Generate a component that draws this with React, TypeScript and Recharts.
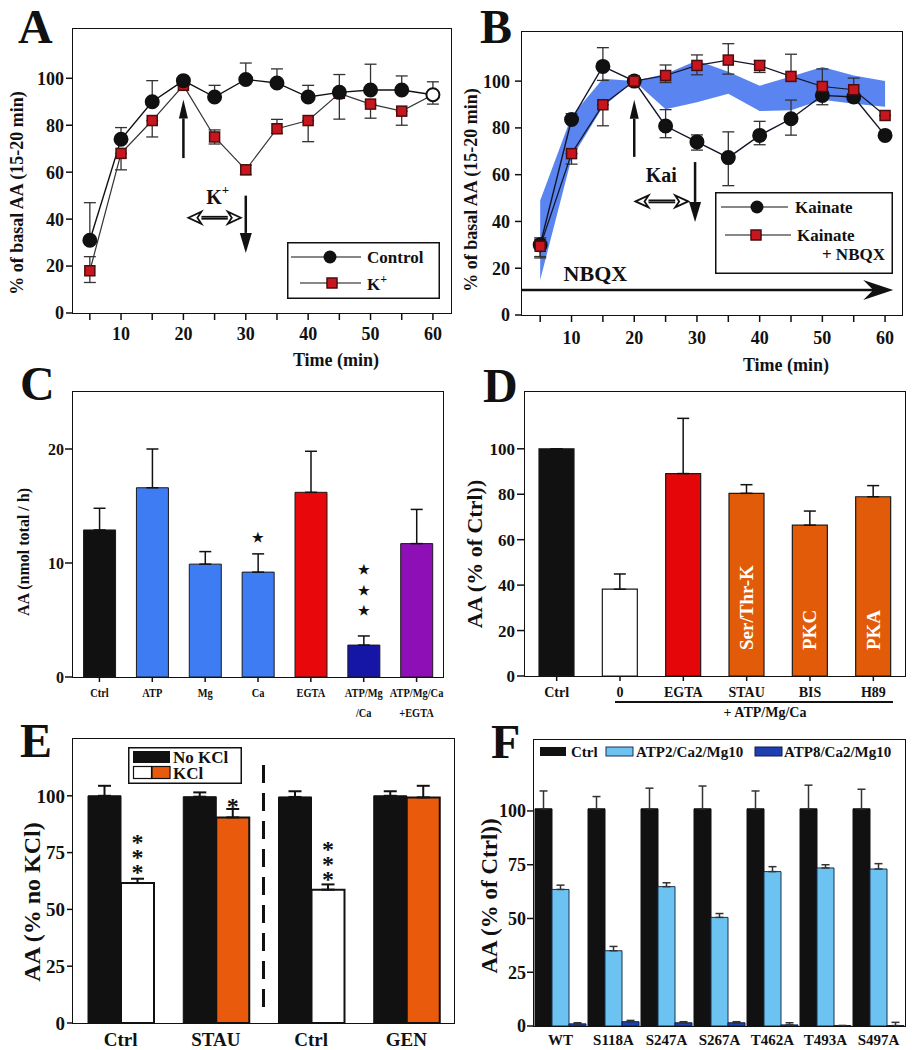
import React from "react";
import {
  Area,
  Bar,
  BarChart,
  Cell,
  ComposedChart,
  ErrorBar,
  LabelList,
  Line,
  ReferenceDot,
  ReferenceLine,
  XAxis,
  YAxis,
} from "recharts";

const FONT = '"Liberation Serif", "Times New Roman", serif';
const INK = "#111";

// A / B: time courses (% of basal AA, 15-20 min)
const times = [5, 10, 15, 20, 25, 30, 35, 40, 45, 50, 55, 60];
const controlA = [31, 74, 90, 99, 92, 99.5, 98, 92, 94, 95, 95, 93];
const controlAErr = [[0, 16], [0, 5], [0, 9], [0, 0], [0, 5], [0, 7], [0, 6], [0, 5], [0, 0], [0, 11], [0, 6], [4, 5.5]];
const kA = [18, 68, 82, 97, 75, 61, 78.5, 82, 93.6, 89, 86, 93];
const kAErr = [[5, 6], [7, 0], [7, 0], [0, 0], [3, 3], [2, 2], [2, 4], [9, 0], [11, 8], [6, 0], [6, 0], [0, 0]];

const kaiB = [30, 83.6, 106.3, 100, 80.8, 74, 67.3, 76.8, 83.9, 93.9, 93.2, 76.8];
const kaiBErr = [[5, 3], [0, 2.5], [6, 8], [0, 0], [5, 7], [3.5, 3], [12, 11], [4, 6], [7, 8], [4, 0], [2, 0], [1, 0]];
const nbqxB = [29.4, 69, 89.9, 100, 102.4, 106.7, 109, 106.7, 102, 97.7, 96.3, 85.3];
const nbqxBErr = [[5, 3], [4.5, 0], [9, 0], [0, 0], [3, 4.5], [4, 4.5], [6, 7], [3, 2], [0, 9.5], [0, 7.5], [4.5, 5], [0, 0]];
const bandLow = [15, 67, 89, 100, 88, 91, 94.6, 87.2, 87.5, 92, 90.3, 89];
const bandHigh = [49, 85, 101, 100, 103, 108.8, 104, 98, 102, 106, 102.4, 100];

// C: AA (nmol total / h)
const cLabels = ["Ctrl", "ATP", "Mg", "Ca", "EGTA", "ATP/Mg\n/Ca", "ATP/Mg/Ca\n+EGTA"];
const cValues = [12.9, 16.6, 9.9, 9.2, 16.2, 2.8, 11.7];
const cErr = [1.9, 3.4, 1.1, 1.6, 3.6, 0.8, 3];
const cColors = ["#111", "#3d7cf2", "#3d7cf2", "#3d7cf2", "#e8070b", "#1515a6", "#8d0fb5"];
const cStars = ["", "", "", "*", "", "***", ""];

// D: AA (% of Ctrl)
const dLabels = ["Ctrl", "0", "EGTA", "STAU", "BIS", "H89"];
const dValues = [100, 38.2, 89.1, 80.4, 66.4, 78.9];
const dErr = [0, 6.7, 24.3, 3.8, 6.2, 4.9];
const dColors = ["#111", "#fff", "#e5060a", "#e25b08", "#e25b08", "#e25b08"];
const dInner = ["", "", "", "Ser/Thr-K", "PKC", "PKA"];

// E: AA (% no KCl)
const eLabels = ["Ctrl", "STAU", "Ctrl", "GEN"];
const eNoKcl = [100, 99.6, 99.5, 100];
const eNoKclErr = [4.4, 1.9, 2.5, 2];
const eKcl = [61.6, 90.5, 58.7, 99.3];
const eKclErr = [1.9, 3.7, 2.3, 5.1];
const eKclColors = ["#fff", "#ea5a0c", "#fff", "#ea5a0c"];
const eStars = ["***", "*", "***", ""];

// F: AA (% of Ctrl) for phospho-site mutants
const fLabels = ["WT", "S118A", "S247A", "S267A", "T462A", "T493A", "S497A"];
const fCtrl = [101, 101, 101, 101, 101, 101, 101];
const fCtrlErr = [8.3, 5.7, 9.6, 10.6, 8.3, 11, 9.1];
const fAtp2 = [63.5, 35, 64.8, 50.5, 71.8, 73.5, 73];
const fAtp2Err = [2, 2, 1.8, 1.8, 2.3, 1.5, 2.5];
const fAtp8 = [1, 2, 1.5, 1.5, 0.5, 0.2, 0.2];
const fAtp8Err = [0.5, 0.6, 0.5, 0.5, 1, 0, 1.5];

const dataA = times.map((t, i) => ({
  t,
  control: controlA[i],
  controlErr: controlAErr[i],
  k: kA[i],
  kErr: kAErr[i],
}));
const dataB = times.map((t, i) => ({
  t,
  kai: kaiB[i],
  kaiErr: kaiBErr[i],
  nbqx: nbqxB[i],
  nbqxErr: nbqxBErr[i],
  band: [bandLow[i], bandHigh[i]],
}));
const dataC = cLabels.map((name, i) => ({ name, value: cValues[i], err: [0, cErr[i]], stars: cStars[i] }));
const dataD = dLabels.map((name, i) => ({ name, value: dValues[i], err: [0, dErr[i]], inner: dInner[i] }));
const dataE = eLabels.map((name, i) => ({
  name,
  pos: i + 0.5,
  noKcl: eNoKcl[i],
  noKclErr: [0, eNoKclErr[i]],
  kcl: eKcl[i],
  kclErr: [0, eKclErr[i]],
  stars: eStars[i],
}));
const dataF = fLabels.map((name, i) => ({
  name,
  ctrl: fCtrl[i],
  ctrlErr: [0, fCtrlErr[i]],
  atp2: fAtp2[i],
  atp2Err: [0, fAtp2Err[i]],
  atp8: fAtp8[i],
  atp8Err: [0, fAtp8Err[i]],
}));

const tick = (size: number) => ({ fill: INK, fontSize: size, fontWeight: 700, fontFamily: FONT });
const tickLine = { stroke: INK, strokeWidth: 1.5 };

function AxisTitle({ px, py, size, txt, rotate }: any) {
  return (
    <text
      x={px}
      y={py}
      textAnchor="middle"
      dominantBaseline="central"
      fontSize={size}
      fontWeight={700}
      fill={INK}
      fontFamily={FONT}
      transform={rotate ? `rotate(-90 ${px} ${py})` : undefined}
    >
      {txt}
    </text>
  );
}

// category label split on "\n", squeezed horizontally like the original figure
function MultiTick(props: any) {
  const { x, y, payload, size = 12, gap = 16, squeeze = 1 } = props;
  const lines = String(payload.value).split("\n");
  return (
    <g>
      {lines.map((line: string, i: number) => (
        <text
          key={i}
          transform={`translate(${x} ${y + i * gap}) scale(${squeeze} 1)`}
          dy="0.71em"
          textAnchor="middle"
          fontSize={size}
          fontWeight={700}
          fill={INK}
          fontFamily={FONT}
        >
          {line}
        </text>
      ))}
    </g>
  );
}

function Arrow(props: any) {
  const { x1, y1, x2, y2, head = 16, half = 5, sw = 2.5, notch = 0 } = props;
  const len = Math.hypot(x2 - x1, y2 - y1) || 1;
  const ux = (x2 - x1) / len;
  const uy = (y2 - y1) / len;
  const bx = x2 - ux * head;
  const by = y2 - uy * head;
  const nx = -uy * half;
  const ny = ux * half;
  const mx = bx + ux * notch;
  const my = by + uy * notch;
  return (
    <g>
      <line x1={x1} y1={y1} x2={mx} y2={my} stroke={INK} strokeWidth={sw} />
      <polygon points={`${x2},${y2} ${bx + nx},${by + ny} ${mx},${my} ${bx - nx},${by - ny}`} fill={INK} />
    </g>
  );
}

function DoubleArrow(props: any) {
  const { x1, y1, x2, y2 } = props;
  const head = 13;
  const half = 6;
  return (
    <g stroke={INK} strokeWidth={1.8} fill="#fff">
      <line x1={x1 + head} y1={y1} x2={x2 - head} y2={y2} />
      <line x1={x1 + head} y1={y1 + 2} x2={x2 - head} y2={y2 + 2} />
      <polygon points={`${x1},${y1 + 1} ${x1 + head},${y1 - half + 1} ${x1 + head - 4},${y1 + 1} ${x1 + head},${y1 + half + 1}`} />
      <polygon points={`${x2},${y2 + 1} ${x2 - head},${y2 - half + 1} ${x2 - head + 4},${y2 + 1} ${x2 - head},${y2 + half + 1}`} />
    </g>
  );
}

const blackDot = (last: boolean) => (p: any) => (
  <circle
    key={`c-${p.index}`}
    cx={p.cx}
    cy={p.cy}
    r={6.5}
    fill={last && p.index === times.length - 1 ? "#fff" : INK}
    stroke={INK}
    strokeWidth={2}
  />
);

const redSquare = (skipLast: boolean) => (p: any) =>
  skipLast && p.index === times.length - 1 ? (
    <g key={`s-${p.index}`} />
  ) : (
    <rect key={`s-${p.index}`} x={p.cx - 5} y={p.cy - 5} width={10} height={10} fill="#c8161e" stroke="#4a0e10" strokeWidth={1.5} />
  );

// significance marks stacked upwards above a bar, one text element per stack
function StarStack(props: any) {
  const { x, y, width, value, gap, step, size, glyph } = props;
  if (!value) return null;
  const chars = String(value).split("");
  const cx = x + width / 2;
  return (
    <text x={cx} y={y - gap} textAnchor="middle" fontSize={size} fontWeight={700} fill={INK} fontFamily={FONT}>
      {chars.map((_c: string, i: number) => (
        <tspan key={i} x={cx} dy={i === 0 ? 0 : -step}>
          {glyph}
        </tspan>
      ))}
    </text>
  );
}

function Frame({ left, top, width, height }: any) {
  return (
    <div
      style={{
        position: "absolute",
        left: left - 1,
        top: top - 1,
        width: width + 2,
        height: height + 2,
        border: `1.5px solid ${INK}`,
        boxSizing: "border-box",
        pointerEvents: "none",
      }}
    />
  );
}

function PanelLetter({ left, top, children }: any) {
  return (
    <div style={{ position: "absolute", left, top, fontSize: 48, lineHeight: "48px", fontWeight: 700, color: INK }}>{children}</div>
  );
}

function LegendA() {
  return (
    <svg style={{ position: "absolute", left: 287, top: 242 }} width={153} height={57}>
      <rect x={0.75} y={0.75} width={151.5} height={55.5} fill="#fff" stroke={INK} strokeWidth={1.5} />
      <line x1={4} y1={15} x2={74} y2={15} stroke={INK} strokeWidth={1.2} />
      <circle cx={43} cy={15} r={6.5} fill={INK} />
      <text x={80} y={21} fontSize={17} fontWeight={700} fill={INK}>Control</text>
      <line x1={13} y1={41} x2={74} y2={41} stroke={INK} strokeWidth={1.2} />
      <rect x={40} y={36} width={10} height={10} fill="#c8161e" stroke="#4a0e10" strokeWidth={1.5} />
      <text x={80} y={48} fontSize={17} fontWeight={700} fill={INK}>
        K<tspan dy={-7} fontSize={12}>+</tspan>
      </text>
    </svg>
  );
}

function LegendB() {
  return (
    <svg style={{ position: "absolute", left: 715, top: 192 }} width={178} height={82}>
      <rect x={0.75} y={0.75} width={176.5} height={80.5} fill="#fff" stroke={INK} strokeWidth={1.5} />
      <line x1={6} y1={15} x2={73} y2={15} stroke={INK} strokeWidth={1.2} />
      <circle cx={42} cy={15} r={6.5} fill={INK} />
      <text x={80} y={21} fontSize={17} fontWeight={700} fill={INK}>Kainate</text>
      <line x1={10} y1={43} x2={76} y2={43} stroke={INK} strokeWidth={1.2} />
      <rect x={36} y={38} width={10} height={10} fill="#c8161e" stroke="#4a0e10" strokeWidth={1.5} />
      <text x={82} y={49} fontSize={17} fontWeight={700} fill={INK}>Kainate</text>
      <text x={170} y={68} textAnchor="end" fontSize={17} fontWeight={700} fill={INK}>+ NBQX</text>
    </svg>
  );
}

function LegendE() {
  return (
    <svg style={{ position: "absolute", left: 128, top: 747 }} width={114} height={37}>
      <rect x={0.75} y={0.75} width={112.5} height={35.5} fill="#fff" stroke={INK} strokeWidth={1.5} />
      <rect x={5} y={4} width={37} height={12} fill={INK} />
      <text x={45} y={16} fontSize={17} fontWeight={700} fill={INK}>No KCl</text>
      <rect x={5.5} y={19.5} width={18} height={12} fill="#fff" stroke={INK} strokeWidth={1.2} />
      <rect x={24} y={19.5} width={18} height={12} fill="#ea5a0c" stroke={INK} strokeWidth={1.2} />
      <text x={45} y={32} fontSize={17} fontWeight={700} fill={INK}>KCl</text>
    </svg>
  );
}

function LegendF() {
  return (
    <svg style={{ position: "absolute", left: 538, top: 744 }} width={362} height={16}>
      <rect x={2} y={3} width={26} height={9} fill={INK} />
      <text x={33} y={13} fontSize={15} fontWeight={700} fill={INK}>Ctrl</text>
      <rect x={68} y={3} width={27} height={9} fill="#6cc3f2" stroke="#1a3050" strokeWidth={1} />
      <text x={98} y={13} fontSize={15} fontWeight={700} fill={INK}>ATP2/Ca2/Mg10</text>
      <rect x={217} y={3} width={27} height={9} fill="#1d3fb0" stroke="#0d1d50" strokeWidth={1} />
      <text x={246} y={13} fontSize={15} fontWeight={700} fill={INK}>ATP8/Ca2/Mg10</text>
    </svg>
  );
}

function PanelA() {
  return (
    <div style={{ position: "absolute", left: 0, top: 0 }}>
      <ComposedChart width={458} height={370} data={dataA} margin={{ top: 29, right: 7, bottom: 0, left: 0 }}>
        <XAxis
          dataKey="t"
          type="number"
          domain={[2.3, 62.9]}
          ticks={times}
          tickFormatter={(v: number) => (v % 10 === 0 ? String(v) : "")}
          height={57}
          axisLine={false}
          tickLine={tickLine}
          tickSize={7}
          tickMargin={7}
          tick={tick(18)}
          allowDataOverflow
          label={<AxisTitle px={336} py={360} size={18} txt="Time (min)" />}
        />
        <YAxis
          type="number"
          domain={[0, 121]}
          ticks={[0, 20, 40, 60, 80, 100]}
          width={73}
          axisLine={false}
          tickLine={tickLine}
          tickSize={7}
          tickMargin={2}
          tick={tick(18)}
          allowDataOverflow
          label={<AxisTitle px={17} py={193} size={18} rotate txt="% of basal AA (15-20 min)" />}
        />
        <ReferenceLine segment={[{ x: 20, y: 66 }, { x: 20, y: 91 }]} shape={(p: any) => <Arrow {...p} head={19} half={4.5} />} />
        <ReferenceLine segment={[{ x: 30, y: 50 }, { x: 30, y: 25.6 }]} shape={(p: any) => <Arrow {...p} head={20} half={6} />} />
        <ReferenceLine segment={[{ x: 20.8, y: 41 }, { x: 29.2, y: 41 }]} shape={(p: any) => <DoubleArrow {...p} />} />
        <ReferenceDot
          x={25.5}
          y={49.6}
          shape={(p: any) => (
            <text x={p.cx} y={p.cy} textAnchor="middle" dominantBaseline="central" fontSize={20} fontWeight={700} fill={INK}>
              K<tspan dy={-8} fontSize={13}>+</tspan>
            </text>
          )}
        />
        <Line type="linear" dataKey="k" stroke="#333" strokeWidth={1.2} dot={redSquare(true)} activeDot={false} isAnimationActive={false}>
          <ErrorBar dataKey="kErr" direction="y" width={6} stroke="#333" strokeWidth={1.3} />
        </Line>
        <Line type="linear" dataKey="control" stroke={INK} strokeWidth={1.4} dot={blackDot(true)} activeDot={false} isAnimationActive={false}>
          <ErrorBar dataKey="controlErr" direction="y" width={6} stroke="#333" strokeWidth={1.3} />
        </Line>
      </ComposedChart>
    </div>
  );
}

function PanelB() {
  return (
    <div style={{ position: "absolute", left: 458, top: 0 }}>
      <ComposedChart width={458} height={380} data={dataB} margin={{ top: 32, right: 14, bottom: 0, left: 0 }}>
        <XAxis
          dataKey="t"
          type="number"
          domain={[2.1, 62.7]}
          ticks={times}
          tickFormatter={(v: number) => (v % 10 === 0 ? String(v) : "")}
          height={65}
          axisLine={false}
          tickLine={tickLine}
          tickSize={7}
          tickMargin={9}
          tick={tick(18)}
          allowDataOverflow
          label={<AxisTitle px={328} py={365} size={18} txt="Time (min)" />}
        />
        <YAxis
          type="number"
          domain={[0, 121]}
          ticks={[0, 20, 40, 60, 80, 100]}
          width={64}
          axisLine={false}
          tickLine={tickLine}
          tickSize={7}
          tickMargin={5}
          tick={tick(18)}
          allowDataOverflow
          label={<AxisTitle px={13} py={190} size={18} rotate txt="% of basal AA (15-20 min)" />}
        />
        <Area type="linear" dataKey="band" stroke="none" fill="#5a84ef" fillOpacity={1} dot={false} activeDot={false} isAnimationActive={false} />
        <ReferenceLine segment={[{ x: 20, y: 67.6 }, { x: 20, y: 92 }]} shape={(p: any) => <Arrow {...p} head={19} half={4.5} />} />
        <ReferenceLine segment={[{ x: 29.7, y: 65.4 }, { x: 29.7, y: 39.8 }]} shape={(p: any) => <Arrow {...p} head={20} half={6} />} />
        <ReferenceLine segment={[{ x: 20.2, y: 49 }, { x: 28.6, y: 49 }]} shape={(p: any) => <DoubleArrow {...p} />} />
        <ReferenceLine segment={[{ x: 2.1, y: 10.7 }, { x: 61.3, y: 10.7 }]} shape={(p: any) => <Arrow {...p} head={30} half={10} notch={10} sw={2.5} />} />
        <ReferenceDot
          x={24.3}
          y={60}
          shape={(p: any) => (
            <text x={p.cx} y={p.cy} textAnchor="middle" dominantBaseline="central" fontSize={20} fontWeight={700} fill={INK}>
              Kai
            </text>
          )}
        />
        <ReferenceDot
          x={13.8}
          y={17.8}
          shape={(p: any) => (
            <text x={p.cx} y={p.cy} textAnchor="middle" dominantBaseline="central" fontSize={22} fontWeight={700} fill={INK}>
              NBQX
            </text>
          )}
        />
        <Line type="linear" dataKey="kai" stroke="#141428" strokeWidth={1.4} dot={blackDot(false)} activeDot={false} isAnimationActive={false}>
          <ErrorBar dataKey="kaiErr" direction="y" width={6} stroke="#333" strokeWidth={1.3} />
        </Line>
        <Line type="linear" dataKey="nbqx" stroke="#141428" strokeWidth={1.2} dot={redSquare(false)} activeDot={false} isAnimationActive={false}>
          <ErrorBar dataKey="nbqxErr" direction="y" width={6} stroke="#333" strokeWidth={1.3} />
        </Line>
      </ComposedChart>
    </div>
  );
}

function PanelC() {
  return (
    <div style={{ position: "absolute", left: 0, top: 360 }}>
      <BarChart width={458} height={380} data={dataC} margin={{ top: 32, right: 15, bottom: 0, left: 0 }} barCategoryGap="20%">
        <XAxis
          dataKey="name"
          interval={0}
          height={63}
          axisLine={false}
          tickLine={tickLine}
          tickSize={5}
          tickMargin={6}
          tick={<MultiTick size={13} gap={20} squeeze={0.8} />}
        />
        <YAxis
          type="number"
          domain={[0, 25]}
          ticks={[0, 10, 20]}
          width={73}
          axisLine={false}
          tickLine={tickLine}
          tickSize={8}
          tickMargin={1}
          tick={tick(16)}
          allowDataOverflow
          label={<AxisTitle px={23} py={192} size={16} rotate txt="AA (nmol total / h)" />}
        />
        <Bar dataKey="value" stroke="#1a1a1a" strokeWidth={1} isAnimationActive={false}>
          {dataC.map((d, i) => (
            <Cell key={d.name} fill={cColors[i]} />
          ))}
          <ErrorBar dataKey="err" direction="y" width={6} stroke={INK} strokeWidth={1.5} />
          <LabelList dataKey="stars" content={(p: any) => <StarStack {...p} gap={30} step={20.5} size={13} glyph="★" />} />
        </Bar>
      </BarChart>
    </div>
  );
}

function PanelD() {
  return (
    <div style={{ position: "absolute", left: 458, top: 360 }}>
      <BarChart width={458} height={380} data={dataD} margin={{ top: 32, right: 11, bottom: 0, left: 0 }} barSize={35}>
        <XAxis
          dataKey="name"
          interval={0}
          height={64}
          axisLine={false}
          tickLine={tickLine}
          tickSize={5}
          tickMargin={6}
          tick={tick(14)}
        />
        <YAxis
          type="number"
          domain={[0, 125]}
          ticks={[0, 20, 40, 60, 80, 100]}
          width={67}
          axisLine={false}
          tickLine={tickLine}
          tickSize={8}
          tickMargin={2}
          tick={tick(17)}
          allowDataOverflow
          label={<AxisTitle px={16} py={194} size={22} rotate txt="AA (% of Ctrl))" />}
        />
        <Bar dataKey="value" stroke="#1a1a1a" strokeWidth={1.2} isAnimationActive={false}>
          {dataD.map((d, i) => (
            <Cell key={d.name} fill={dColors[i]} />
          ))}
          <ErrorBar dataKey="err" direction="y" width={6} stroke={INK} strokeWidth={1.5} />
          <LabelList
            dataKey="inner"
            content={(p: any) => {
              if (!p.value) return null;
              const cx = p.x + p.width / 2;
              const by = p.y + p.height - 26;
              return (
                <text x={cx} y={by} transform={`rotate(-90 ${cx} ${by})`} textAnchor="start" dominantBaseline="central" fill="#fff" fontSize={19} fontWeight={700}>
                  {p.value}
                </text>
              );
            }}
          />
        </Bar>
      </BarChart>
    </div>
  );
}

function PanelE() {
  return (
    <div style={{ position: "absolute", left: 0, top: 700 }}>
      <BarChart width={458} height={350} data={dataE} margin={{ top: 39, right: 4, bottom: 0, left: 0 }} barSize={33} barGap={0}>
        <XAxis dataKey="name" interval={0} height={27} axisLine={false} tickLine={false} tickSize={4} tickMargin={6} tick={tick(19)} />
        <XAxis xAxisId="n" dataKey="pos" type="number" domain={[0, 4]} allowDataOverflow hide />
        <YAxis
          type="number"
          domain={[0, 125]}
          ticks={[0, 25, 50, 75, 100]}
          width={73}
          axisLine={false}
          tickLine={tickLine}
          tickSize={6}
          tickMargin={2}
          tick={tick(19)}
          allowDataOverflow
          label={<AxisTitle px={32} py={202} size={24} rotate txt="AA (% no KCl)" />}
        />
        <ReferenceLine xAxisId="n" segment={[{ x: 2, y: 7 }, { x: 2, y: 118 }]} stroke={INK} strokeWidth={3} strokeDasharray="18 10" />
        <Bar dataKey="noKcl" fill={INK} stroke={INK} strokeWidth={1} isAnimationActive={false}>
          <ErrorBar dataKey="noKclErr" direction="y" width={6.5} stroke={INK} strokeWidth={2} />
        </Bar>
        <Bar dataKey="kcl" stroke={INK} strokeWidth={2} isAnimationActive={false}>
          {dataE.map((d, i) => (
            <Cell key={`${d.name}-${i}`} fill={eKclColors[i]} />
          ))}
          <ErrorBar dataKey="kclErr" direction="y" width={6.5} stroke={INK} strokeWidth={2} />
          <LabelList dataKey="stars" content={(p: any) => <StarStack {...p} gap={3} step={15} size={24} glyph="*" />} />
        </Bar>
      </BarChart>
    </div>
  );
}

function PanelF() {
  return (
    <div style={{ position: "absolute", left: 458, top: 700 }}>
      <BarChart width={458} height={350} data={dataF} margin={{ top: 40, right: 11, bottom: 0, left: 0 }} barSize={17} barGap={0}>
        <XAxis dataKey="name" interval={0} height={24} axisLine={false} tickLine={false} tickSize={3} tickMargin={5} tick={tick(15)} />
        <YAxis
          type="number"
          domain={[0, 133]}
          ticks={[0, 25, 50, 75, 100]}
          width={76}
          axisLine={false}
          tickLine={tickLine}
          tickSize={7}
          tickMargin={1}
          tick={tick(18)}
          allowDataOverflow
          label={<AxisTitle px={31} py={196} size={23} rotate txt="AA (% of Ctrl))" />}
        />
        <Bar dataKey="ctrl" fill={INK} stroke={INK} strokeWidth={1} isAnimationActive={false}>
          <ErrorBar dataKey="ctrlErr" direction="y" width={4} stroke="#333" strokeWidth={1.5} />
        </Bar>
        <Bar dataKey="atp2" fill="#6cc3f2" stroke="#1a3050" strokeWidth={1} isAnimationActive={false}>
          <ErrorBar dataKey="atp2Err" direction="y" width={4} stroke="#333" strokeWidth={1.5} />
        </Bar>
        <Bar dataKey="atp8" fill="#1d3fb0" stroke="#0d1d50" strokeWidth={1} isAnimationActive={false}>
          <ErrorBar dataKey="atp8Err" direction="y" width={4} stroke="#333" strokeWidth={1.5} />
        </Bar>
      </BarChart>
    </div>
  );
}

export default function App() {
  return (
    <div
      style={{
        position: "absolute",
        left: 0,
        top: 0,
        width: 916,
        height: 1050,
        background: "#fff",
        fontFamily: FONT,
        color: INK,
        overflow: "hidden",
      }}
    >
      <PanelE />
      <PanelF />
      <PanelC />
      <PanelD />
      <PanelA />
      <PanelB />

      <Frame left={73} top={29} width={378} height={284} />
      <Frame left={522} top={32} width={380} height={283} />
      <Frame left={73} top={392} width={370} height={285} />
      <Frame left={525} top={392} width={380} height={284} />
      <Frame left={73} top={739} width={381} height={284} />
      <Frame left={534} top={740} width={371} height={286} />

      <LegendA />
      <LegendB />
      <LegendE />
      <LegendF />

      <div style={{ position: "absolute", left: 615, top: 701, width: 278, borderTop: `2px solid ${INK}` }} />
      <div style={{ position: "absolute", left: 665, top: 705, width: 200, textAlign: "center", fontSize: 14, fontWeight: 700 }}>
        + ATP/Mg/Ca
      </div>

      <PanelLetter left={18} top={3}>A</PanelLetter>
      <PanelLetter left={480} top={3}>B</PanelLetter>
      <PanelLetter left={20} top={360}>C</PanelLetter>
      <PanelLetter left={483} top={362}>D</PanelLetter>
      <PanelLetter left={20} top={717}>E</PanelLetter>
      <PanelLetter left={491} top={718}>F</PanelLetter>
    </div>
  );
}
